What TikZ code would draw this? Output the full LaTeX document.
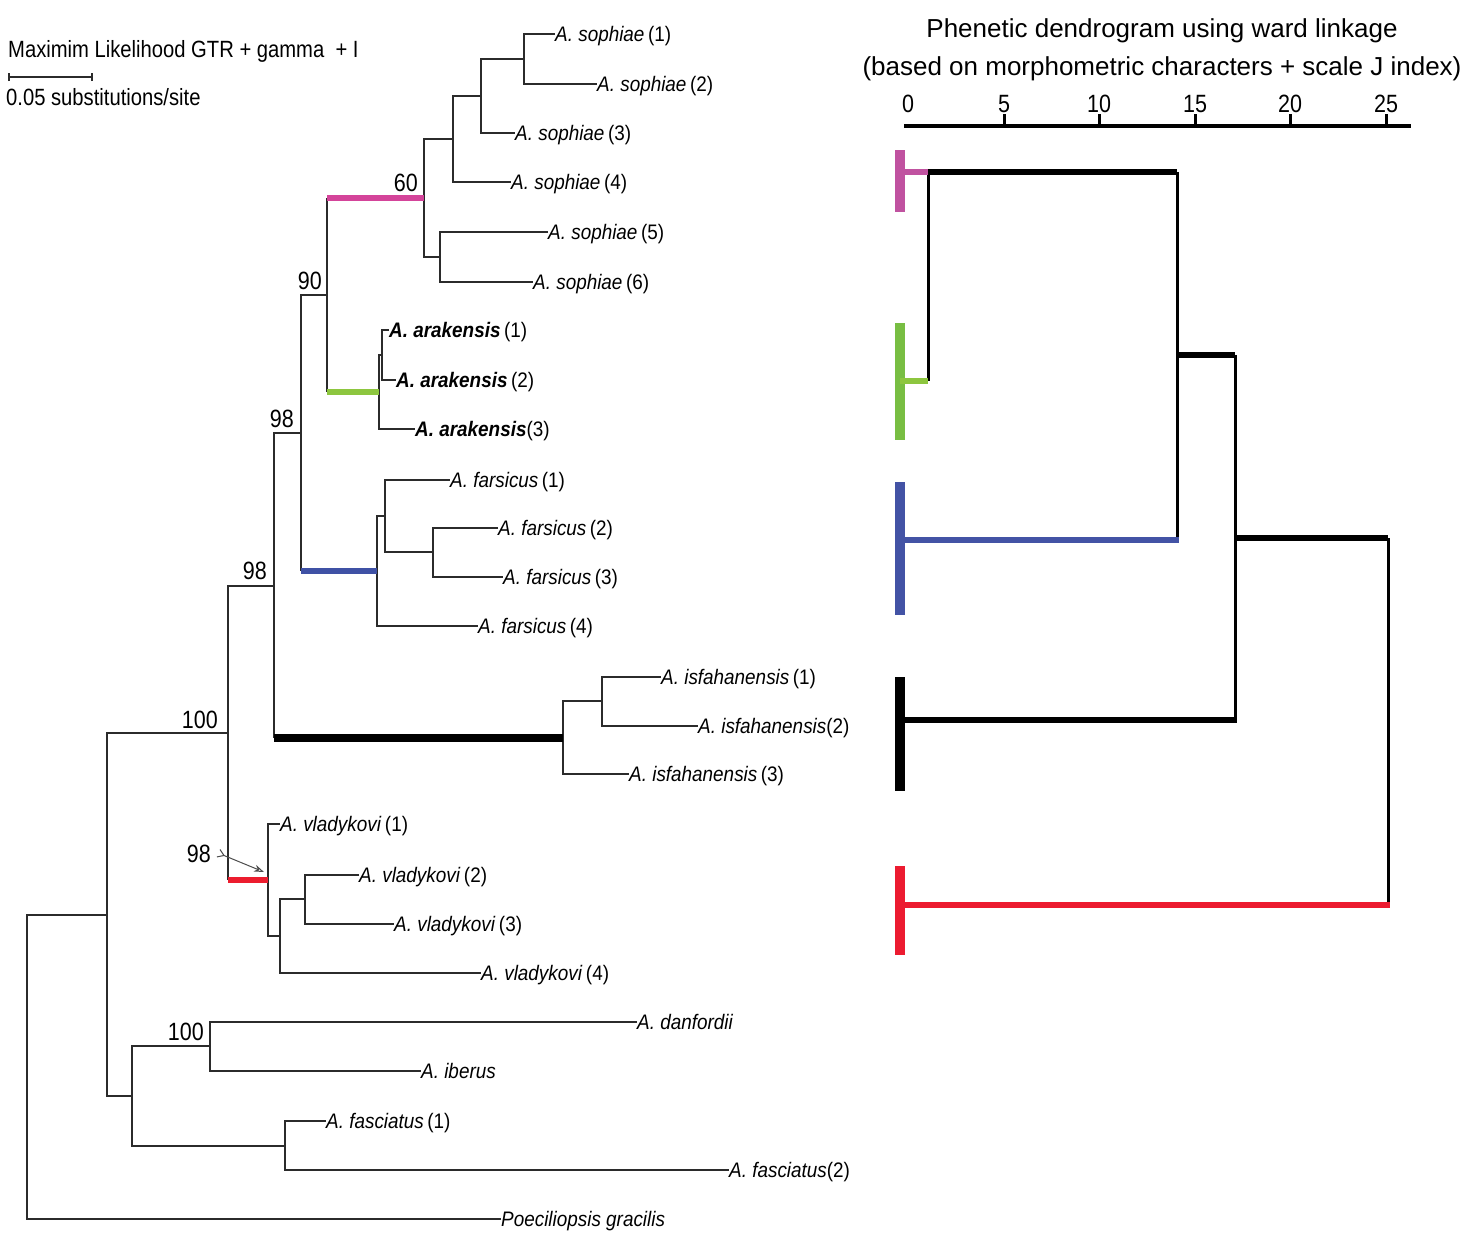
\documentclass[tikz,border=0pt]{standalone}
\usepackage{fontspec}
\setmainfont{Liberation Sans}
\newfontfamily\condfont{Liberation Sans}[FakeStretch=0.86]
\newfontfamily\labfont{Liberation Sans}[FakeStretch=0.9]
\usetikzlibrary{arrows.meta}
\definecolor{tpink}{HTML}{D4449A}
\definecolor{tgreen}{HTML}{8DC63F}
\definecolor{tblue}{HTML}{3F51A5}
\definecolor{tred}{HTML}{EC1C2E}
\definecolor{dpink}{HTML}{C052A0}
\definecolor{dgreen}{HTML}{78BE43}
\definecolor{dblue}{HTML}{4353A5}
\definecolor{dred}{HTML}{EC1B30}
\definecolor{lineg}{HTML}{2B2B2B}
\begin{document}
\begin{tikzpicture}[x=1pt,y=-1pt,
  br/.style={draw=lineg, line width=1.8pt},
  colbr/.style={line width=6pt},
  leaf/.style={anchor=west, inner sep=0pt, text height=15pt, text depth=0pt, font=\labfont\fontsize{21}{24}\selectfont},
  boot/.style={anchor=base east, inner sep=0pt, font=\condfont\fontsize{25}{28}\selectfont},
  hdr/.style={anchor=base west, inner sep=0pt, font=\condfont\fontsize{23.5}{27}\selectfont},
  ttl/.style={anchor=base, inner sep=0pt, font=\fontsize{26}{30}\selectfont},
  axnum/.style={anchor=base, inner sep=0pt, font=\condfont\fontsize{25}{28}\selectfont},
  dthin/.style={line width=3pt},
  dthick/.style={line width=5.5pt},
  cbar/.style={line width=10.5pt}
]
\useasboundingbox (0,0) rectangle (1466,1240);

% ---------- header / scale bar ----------
\node[hdr] (mlh) at (8,57) {Maximim Likelihood GTR + gamma\ \ + I};
\node[hdr] (sbt) at (6,105) {0.05 substitutions/site};
\coordinate (sb1) at (9,77);
\coordinate (sb2) at (92,77);
\draw[line width=2.5pt, lineg] (sb1) -- (sb2);
\draw[line width=1.8pt, lineg] ([yshift=-4pt]sb1) -- ([yshift=4pt]sb1);
\draw[line width=1.8pt, lineg] ([yshift=-4pt]sb2) -- ([yshift=4pt]sb2);

% ---------- leaves ----------
\node[leaf] (s1) at (555,34) {\textit{A. sophiae}\,(1)};
\node[leaf] (s2) at (597,84) {\textit{A. sophiae}\,(2)};
\node[leaf] (s3) at (515,133) {\textit{A. sophiae}\,(3)};
\node[leaf] (s4) at (511,182) {\textit{A. sophiae}\,(4)};
\node[leaf] (s5) at (548,232) {\textit{A. sophiae}\,(5)};
\node[leaf] (s6) at (533,282) {\textit{A. sophiae}\,(6)};
\node[leaf] (a1) at (389,330) {{\bfseries\itshape A. arakensis}\,(1)};
\node[leaf] (a2) at (396,380) {{\bfseries\itshape A. arakensis}\,(2)};
\node[leaf] (a3) at (415,429) {{\bfseries\itshape A. arakensis}(3)};
\node[leaf] (f1) at (450,480) {\textit{A. farsicus}\,(1)};
\node[leaf] (f2) at (498,528) {\textit{A. farsicus}\,(2)};
\node[leaf] (f3) at (503,577) {\textit{A. farsicus}\,(3)};
\node[leaf] (f4) at (478,626) {\textit{A. farsicus}\,(4)};
\node[leaf] (i1) at (661,677) {\textit{A. isfahanensis}\,(1)};
\node[leaf] (i2) at (698,726) {\textit{A. isfahanensis}(2)};
\node[leaf] (i3) at (629,774) {\textit{A. isfahanensis}\,(3)};
\node[leaf] (v1) at (280,824) {\textit{A. vladykovi}\,(1)};
\node[leaf] (v2) at (359,875) {\textit{A. vladykovi}\,(2)};
\node[leaf] (v3) at (394,924) {\textit{A. vladykovi}\,(3)};
\node[leaf] (v4) at (481,973) {\textit{A. vladykovi}\,(4)};
\node[leaf] (dan) at (637,1022) {\textit{A. danfordii}};
\node[leaf] (ib) at (421,1071) {\textit{A. iberus}};
\node[leaf] (fa1) at (326,1121) {\textit{A. fasciatus}\,(1)};
\node[leaf] (fa2) at (729,1170) {\textit{A. fasciatus}(2)};
\node[leaf] (poe) at (501,1219) {\textit{Poeciliopsis gracilis}};

% ---------- internal nodes ----------
\coordinate (nS12) at (524,59);
\coordinate (nS123) at (481,96);
\coordinate (nS1234) at (453,139);
\coordinate (nS56) at (440,257);
\coordinate (nS) at (424,198);
\coordinate (nA12) at (382,355);
\coordinate (nA) at (379,392);
\coordinate (n90) at (327,295);
\coordinate (nF23) at (433,552);
\coordinate (nF123) at (385,516);
\coordinate (nF) at (377,571);
\coordinate (n98a) at (301,433);
\coordinate (nI12) at (602,701);
\coordinate (nI) at (563,738);
\coordinate (n98b) at (274,586);
\coordinate (nV23) at (305,899);
\coordinate (nV234) at (280,936);
\coordinate (nV) at (268,880);
\coordinate (n100) at (228,733);
\coordinate (nDI) at (210,1046);
\coordinate (nFa) at (285,1146);
\coordinate (nOut) at (132,1096);
\coordinate (nIng) at (107,915);
\coordinate (root) at (27,1067);

% ---------- branches ----------
\draw[br] (s1.west) -| (nS12) |- (s2.west);
\draw[br] (nS12) -| (nS123) |- (s3.west);
\draw[br] (nS123) -| (nS1234) |- (s4.west);
\draw[br] (s5.west) -| (nS56) |- (s6.west);
\draw[br] (nS1234) -| (nS) |- (nS56);
\draw[br] (a1.west) -| (nA12) |- (a2.west);
\draw[br] (nA12) -| (nA) |- (a3.west);
\draw[br] (n90 |- nS) -- (n90 |- nA);
\draw[colbr, tpink] (n90 |- nS) -- (nS);
\draw[colbr, tgreen] (n90 |- nA) -- (nA);
\draw[br] (f2.west) -| (nF23) |- (f3.west);
\draw[br] (f1.west) -| (nF123) |- (nF23);
\draw[br] (nF123) -| (nF) |- (f4.west);
\draw[br] (n90) -| (n98a) -- (n98a |- nF);
\draw[colbr, tblue] (n98a |- nF) -- (nF);
\draw[br] (i1.west) -| (nI12) |- (i2.west);
\draw[br] (nI12) -| (nI) |- (i3.west);
\draw[br] (n98a) -| (n98b) -- (n98b |- nI);
\draw[line width=8pt, black] (n98b |- nI) -- (nI);
\draw[br] (v2.west) -| (nV23) |- (v3.west);
\draw[br] (nV23) -| (nV234) |- (v4.west);
\draw[br] (v1.west) -| (nV) |- (nV234);
\draw[br] (n98b) -| (n100) -- (n100 |- nV);
\draw[colbr, tred] (n100 |- nV) -- (nV);
\draw[br] (dan.west) -| (nDI) |- (ib.west);
\draw[br] (fa1.west) -| (nFa) |- (fa2.west);
\draw[br] (nDI) -| (nOut) |- (nFa);
\draw[br] (n100) -| (nIng) |- (nOut);
\draw[br] (nIng) -| (root) |- (poe.west);

% ---------- bootstrap values ----------
\node[boot] (b60) at (418,191) {60};
\node[boot] (b90) at (322,289) {90};
\node[boot] (b98a) at (294,427) {98};
\node[boot] (b98b) at (267,579) {98};
\node[boot] (b100a) at (218,728) {100};
\node[boot] (b98c) at (211,862) {98};
\node[boot] (b100b) at (204,1040) {100};
\coordinate (arT) at (218,853);
\coordinate (arH) at (264,872);
\draw[gray!60!black, line width=1pt, {Straight Barb[reversed,length=6pt,width=8pt]}-{Stealth[open,length=10pt,width=7pt]}] (arT) -- (arH);

% ---------- phenetic dendrogram ----------
\node[ttl] (t1) at (1162,37) {Phenetic dendrogram using ward linkage};
\node[ttl] (t2) at (1162,75) {(based on morphometric characters + scale J index)};
\coordinate (ax0) at (904,126);
\coordinate (ax1) at (1411,126);
\draw[line width=3.5pt] (ax0) -- (ax1);
\foreach \xx/\lab in {908/0, 1004/5, 1099/10, 1195/15, 1290/20, 1386/25}{
  \node[axnum] at (\xx,112) {\lab};
}
\foreach \xx in {1004,1099,1195,1290,1386}{
  \draw[line width=3pt] (\xx,126) -- (\xx,114);
}
% cluster bars
\coordinate (cP) at (900,172);
\coordinate (cG) at (900,381);
\coordinate (cB) at (900,540);
\coordinate (cK) at (900,720);
\coordinate (cR) at (900,905);
\draw[cbar, dpink] (900,150) -- (900,212);
\draw[cbar, dgreen] (900,323) -- (900,440);
\draw[cbar, dblue] (900,482) -- (900,615);
\draw[cbar, black] (900,677) -- (900,791);
\draw[cbar, dred] (900,866) -- (900,955);
% joins
\coordinate (j1) at (928,172);
\coordinate (j2) at (1177,172);
\coordinate (j3) at (1177,355);
\coordinate (j4) at (1235,355);
\coordinate (j5) at (1235,538);
\coordinate (j6) at (1388,538);
\draw[dthin] (j1) -- (j1 |- cG);
\draw[dthick, dpink] (cP) -- (j1);
\draw[dthick, tgreen] (cG) -- (j1 |- cG);
\draw[dthick] (j1) -- (j2);
\draw[dthin] (j2) -- (j2 |- cB);
\draw[dthick, dblue] (cB) -- ([xshift=1.5pt]j2 |- cB);
\draw[dthick] (j3) -- (j4);
\draw[dthin] (j4) -- (j4 |- cK);
\draw[dthick] (cK) -- ([xshift=1.5pt]j4 |- cK);
\draw[dthick] (j5) -- (j6);
\draw[dthin] (j6) -- (j6 |- cR);
\draw[dthick, dred] (cR) -- ([xshift=1.5pt]j6 |- cR);
\end{tikzpicture}
\end{document}
